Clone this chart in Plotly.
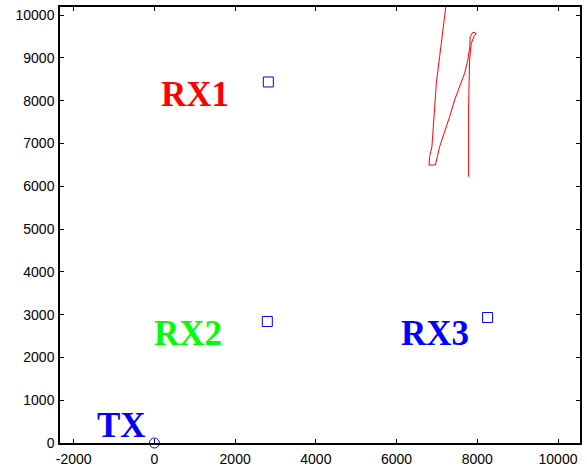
import plotly.graph_objects as go

# Red track (data units)
track_x = [7785, 7785, 7809, 7851, 7916, 7975, 7891, 7824, 7814, 7765, 7686, 7562, 7438, 7314,
           7191, 7124, 7067, 7010, 6960, 6802, 6819, 6876, 6901, 6943, 6985, 7067, 7149, 7215, 7240]
track_y = [6222, 7850, 8949, 9339, 9493, 9572, 9596, 9493, 9259, 8949, 8638, 8325, 8014, 7624,
           7273, 7040, 6923, 6689, 6495, 6495, 6689, 6923, 7236, 7780, 8404, 9026, 9727, 10194, 10350]

tx_x = [0]
tx_y = [0]
rx_x = [2822, 2797, 8255]
rx_y = [8435, 2839, 2932]

label_text = ["RX1", "RX2", "RX3", "TX"]
label_x = [1002, 829, 6943, -812]
label_y = [8154, 2570, 2570, 404]
label_color = ["#ff0000", "#00ff00", "#0000ff", "#0000ff"]

x_tickvals = [-2000, 0, 2000, 4000, 6000, 8000, 10000]
x_ticktext = ["-2000", "0", "2000", "4000", "6000", "8000", "10000"]
y_tickvals = [0, 1000, 2000, 3000, 4000, 5000, 6000, 7000, 8000, 9000, 10000]
y_ticktext = ["0", "1000", "2000", "3000", "4000", "5000", "6000", "7000", "8000", "9000", "10000"]

fig = go.Figure()
fig.add_trace(go.Scatter(x=track_x, y=track_y, mode="lines",
                         line=dict(color="#ff0000", width=1), showlegend=False))
fig.add_trace(go.Scatter(x=tx_x, y=tx_y, mode="markers", cliponaxis=False,
                         marker=dict(symbol="circle-open", size=10, color="#0000ff", line=dict(width=1)),
                         showlegend=False))
fig.add_trace(go.Scatter(x=rx_x, y=rx_y, mode="markers",
                         marker=dict(symbol="square-open", size=10, color="#0000ff", line=dict(width=1)),
                         showlegend=False))

for t, x, y, c in zip(label_text, label_x, label_y, label_color):
    fig.add_annotation(x=x, y=y, text="<b>%s</b>" % t, showarrow=False,
                       font=dict(family="Liberation Serif", size=35, color=c))

axis_common = dict(showgrid=False, zeroline=False, showline=True, linecolor="black", linewidth=1.5,
                   mirror="ticks", ticks="inside", ticklen=4, tickcolor="black", automargin=False,
                   tickfont=dict(family="Liberation Sans", size=14, color="black"))

fig.update_xaxes(range=[-2340, 10545], tickvals=x_tickvals, ticktext=x_ticktext,
                 ticklabelstandoff=2, **axis_common)
fig.update_yaxes(range=[0, 10187], tickvals=y_tickvals, ticktext=y_ticktext,
                 ticklabelstandoff=1, **axis_common)

fig.update_layout(width=587, height=467, margin=dict(l=60, r=7, t=7, b=24, autoexpand=False),
                  plot_bgcolor="white", paper_bgcolor="white")

fig.write_html("out.html", config={"displayModeBar": False},
               post_script="document.body.style.margin='0';document.body.style.overflow='hidden';")
